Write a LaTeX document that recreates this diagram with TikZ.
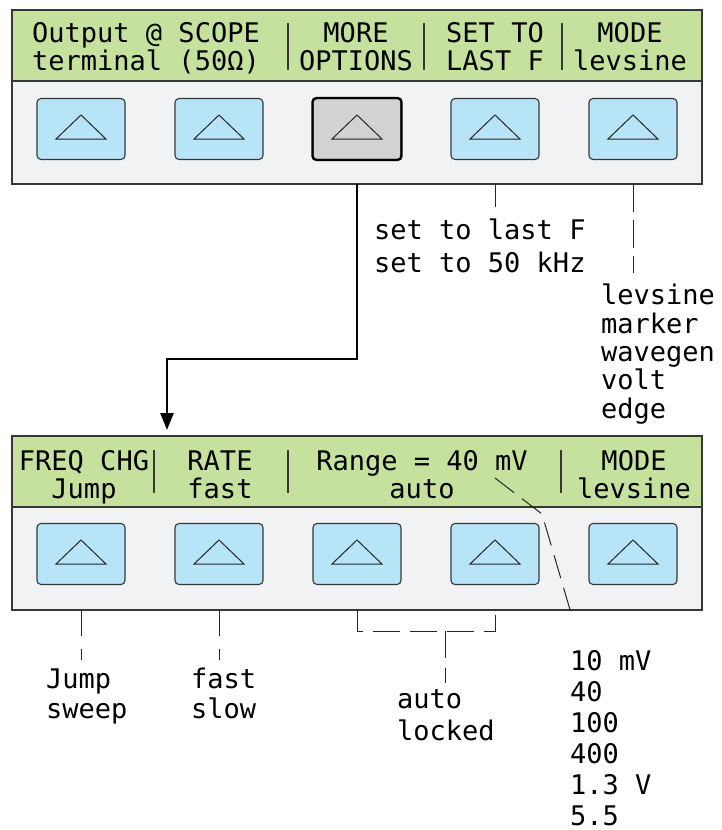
\documentclass[tikz,border=0pt]{standalone}
\usepackage{fontspec}
\usepackage{tikz}
\usetikzlibrary{arrows.meta,positioning,calc}
\usepackage{xcolor}
\newfontfamily\lcdfont{DejaVu Sans Mono}
\definecolor{lcdgreen}{RGB}{198,224,158}
\definecolor{panelgray}{RGB}{241,242,244}
\definecolor{keyblue}{RGB}{184,228,248}
\definecolor{keygray}{RGB}{209,210,212}
\definecolor{rimgray}{RGB}{55,55,55}

\begin{document}
\begin{tikzpicture}[x=1pt,y=-1pt,
    panelbox/.style={fill=panelgray,minimum width=690pt,minimum height=174pt,inner sep=0pt,outer sep=0pt},
    softkey/.style={draw=rimgray,line width=1.1pt,rounded corners=4pt,minimum width=88pt,minimum height=61pt,inner sep=0pt},
    lcd/.style={font=\lcdfont\fontsize{27}{28}\selectfont,inner sep=0pt,anchor=base,align=center},
    lbl/.style={font=\lcdfont\fontsize{27}{#1}\selectfont,inner sep=0pt,anchor=base west,align=left},
    bar/.style={line width=2pt,rimgray},
    lead/.style={line width=1pt,black!85},
    dashlead/.style={lead,dash pattern=on 27pt off 10pt}]
  \useasboundingbox (0,0) rectangle (722,830);

  % Top panel
  \node[panelbox] (toppanel) at (357,97) {};
  \fill[lcdgreen] (toppanel.north west) rectangle ($(toppanel.north east)+(0,71)$);
  \draw[rimgray,line width=1.5pt] (toppanel.north west) rectangle (toppanel.south east);
  \draw[rimgray,line width=1.5pt] ($(toppanel.north west)+(0,71)$) -- ($(toppanel.north east)+(0,71)$);
  \foreach \k/\x/\kfill in {1/81/keyblue,2/219/keyblue,3/357/keygray,4/495/keyblue,5/633/keyblue} {
    \node[softkey,fill=\kfill] (topkey\k) at (\x,129) {};
    \draw[lead] ($(topkey\k)+(-25,10)$) -- ($(topkey\k)+(0,-14)$) -- ($(topkey\k)+(25,10)$) -- cycle;
  }
  \draw[line width=2.2pt,rounded corners=4pt] (topkey3.north west) rectangle (topkey3.south east);
  % base = last line
  \node[lcd] (scopetxt) at (146,70) {Output @ SCOPE\\terminal (50Ω)};
  \node[lcd] (moretxt) at (356,70) {MORE\\OPTIONS};
  \node[lcd] (settxt) at (495,70) {SET TO\\LAST F};
  \node[lcd] (modetxt) at (630,70) {MODE\\levsine};
  \foreach \x in {288,424,562} \draw[bar] (\x,23) -- (\x,70);

  % Bottom panel
  \node[panelbox] (botpanel) at (357,523) {};
  \fill[lcdgreen] (botpanel.north west) rectangle ($(botpanel.north east)+(0,71)$);
  \draw[rimgray,line width=1.5pt] (botpanel.north west) rectangle (botpanel.south east);
  \draw[rimgray,line width=1.5pt] ($(botpanel.north west)+(0,71)$) -- ($(botpanel.north east)+(0,71)$);
  \foreach \k/\x in {1/81,2/219,3/357,4/495,5/633} {
    \node[softkey,fill=keyblue] (botkey\k) at (\x,554) {};
    \draw[lead] ($(botkey\k)+(-25,10)$) -- ($(botkey\k)+(0,-14)$) -- ($(botkey\k)+(25,10)$) -- cycle;
  }
  \node[lcd] (freqtxt) at (84,498) {FREQ CHG\\Jump};
  \node[lcd] (ratetxt) at (220,498) {RATE\\fast};
  \node[lcd] (rangetxt) at (422,498) {Range = 40 mV\\auto};
  \node[lcd] (mode2txt) at (634,498) {MODE\\levsine};
  \foreach \x in {154,288,561} \draw[bar] (\x,450) -- (\x,493);

  % Choices
  \node[lbl=33] (setlbl) at (374,272) {set to last F\\set to 50 kHz};
  \node[lbl=28.3] (modelist) at (601,418) {levsine\\marker\\wavegen\\volt\\edge};
  \node[lbl=30] (jumplbl) at (46,718) {Jump\\sweep};
  \node[lbl=30] (ratelbl) at (191,718) {fast\\slow};
  \node[lbl=32] (autolbl) at (397,740) {auto\\locked};
  \node[lbl=31] (rangelist) at (570,825) {10 mV\\40\\100\\400\\1.3 V\\5.5};

  % Leaders
  \coordinate (bend) at (167,359);
  \draw[line width=2.6pt,-{Triangle[length=17pt,width=13pt]},shorten >=6pt]
    (topkey3 |- toppanel.south) |- (bend) -- (bend |- botpanel.north);
  \draw[lead] (topkey4 |- toppanel.south) -- ++(0,23);
  \draw[dashlead,dash pattern=on 28pt off 8pt] (topkey5 |- toppanel.south) -- ++(0,89);
  \draw[dashlead,dash pattern=on 26pt off 13pt] (botkey1 |- botpanel.south) -- ++(0,50);
  \draw[dashlead,dash pattern=on 26pt off 13pt] (botkey2 |- botpanel.south) -- ++(0,50);
  \coordinate (brk) at ($(botkey3 |- botpanel.south)+(0,21)$);
  \draw[dashlead] (botkey3 |- botpanel.south) -- (brk) -| (botkey4 |- botpanel.south);
  \draw[dashlead] (autolbl.north |- brk) -- ++(0,52);
  \coordinate (rangetap) at (495,478);
  \coordinate (rangebend) at (542,514);
  \coordinate (rangeend) at (573,620);
  \draw[dashlead,dash pattern=on 24pt off 10pt] (rangetap) -- (rangebend) -- (rangeend);
\end{tikzpicture}
\end{document}
